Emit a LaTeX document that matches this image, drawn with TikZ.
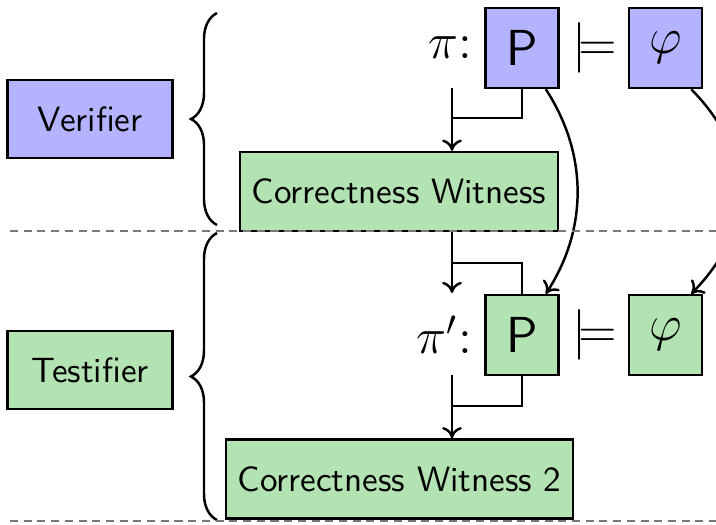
\documentclass[tikz,border=0pt]{standalone}
\usepackage{amsmath}
\usepackage{amssymb}
\usetikzlibrary{arrows.meta,positioning,decorations.pathreplacing}
\definecolor{VerBlue}{RGB}{179,179,255}
\definecolor{TestGreen}{RGB}{179,226,179}
\definecolor{SepGray}{RGB}{120,120,120}

\begin{document}
\begin{tikzpicture}[
    font=\sffamily,
    rolebox/.style={draw=black, line width=0.7pt, minimum width=1.65cm, minimum height=0.78cm},
    progbox/.style={draw=black, line width=0.7pt, minimum width=0.73cm, minimum height=0.80cm, font=\sffamily\Large},
    witbox/.style={draw=black, line width=0.7pt, fill=TestGreen, minimum height=0.79cm},
    flow/.style={-{To[length=3.2pt,width=5.6pt]}, line width=0.7pt},
    link/.style={line width=0.7pt},
    sepline/.style={draw=SepGray, line width=0.7pt, dash pattern=on 2.3pt off 1.6pt},
    grp/.style={decorate, decoration={brace, amplitude=0.26cm}, line width=0.7pt}
  ]
    \useasboundingbox (0,0) rectangle (7.16,5.24);
    \clip (0,0) rectangle (7.16,5.24);

    \node[rolebox, fill=VerBlue] (ver) at (0.90,4.05) {Verifier};
    \node[rolebox, fill=TestGreen] (tes) at (0.90,1.54) {Testifier};

    \node[progbox, fill=VerBlue] (ptop) at (5.22,4.76) {P};
    \node[progbox, fill=VerBlue] (phitop) at (6.655,4.76) {$\varphi$};
    \node[left=0pt of ptop, font=\Large] (pilbl) {$\pi$:};
    \node[font=\Large, inner sep=0pt] (mtop) at (5.95,4.76) {$\models$};
    \node[witbox, minimum width=3.16cm] (wit) at (3.99,3.325) {Correctness Witness};

    \node[progbox, fill=TestGreen] (pbot) at (5.22,1.89) {P};
    \node[progbox, fill=TestGreen] (phibot) at (6.655,1.89) {$\varphi$};
    \node[left=0pt of pbot, font=\Large] (pilbl2) {$\pi'$:};
    \node[font=\Large, inner sep=0pt] (mbot) at (5.95,1.89) {$\models$};
    \node[witbox, minimum width=3.47cm] (wit2) at (3.995,0.45) {Correctness Witness 2};

    \coordinate (ina) at (4.52,4.36);
    \coordinate (joina) at (4.52,4.06);
    \coordinate (joinb) at (4.52,2.61);
    \coordinate (tipb) at (4.52,2.31);
    \coordinate (inc) at (4.52,1.49);
    \coordinate (joinc) at (4.52,1.18);

    \draw[flow] (ina) -- (ina |- wit.north);
    \draw[link] (ptop.south) |- (joina);
    \draw[flow] (wit.south -| joinb) -- (tipb);
    \draw[link] (pbot.north) |- (joinb);
    \draw[flow] (inc) -- (inc |- wit2.north);
    \draw[link] (pbot.south) |- (joinc);

    \draw[flow] (ptop.-60) .. controls (5.88,3.7) and (5.88,2.95) .. (pbot.60);
    \draw[flow] (phitop.-58) .. controls (7.55,3.7) and (7.55,2.95) .. (phibot.58);

    \draw[grp] (2.17,2.99) -- (2.17,5.11);
    \draw[grp] (2.17,0.04) -- (2.17,2.91);

    \draw[sepline] (0.10,2.93) -- (7.16,2.93);
    \draw[sepline] (0.10,0.03) -- (7.16,0.03);
  \end{tikzpicture}
\end{document}
